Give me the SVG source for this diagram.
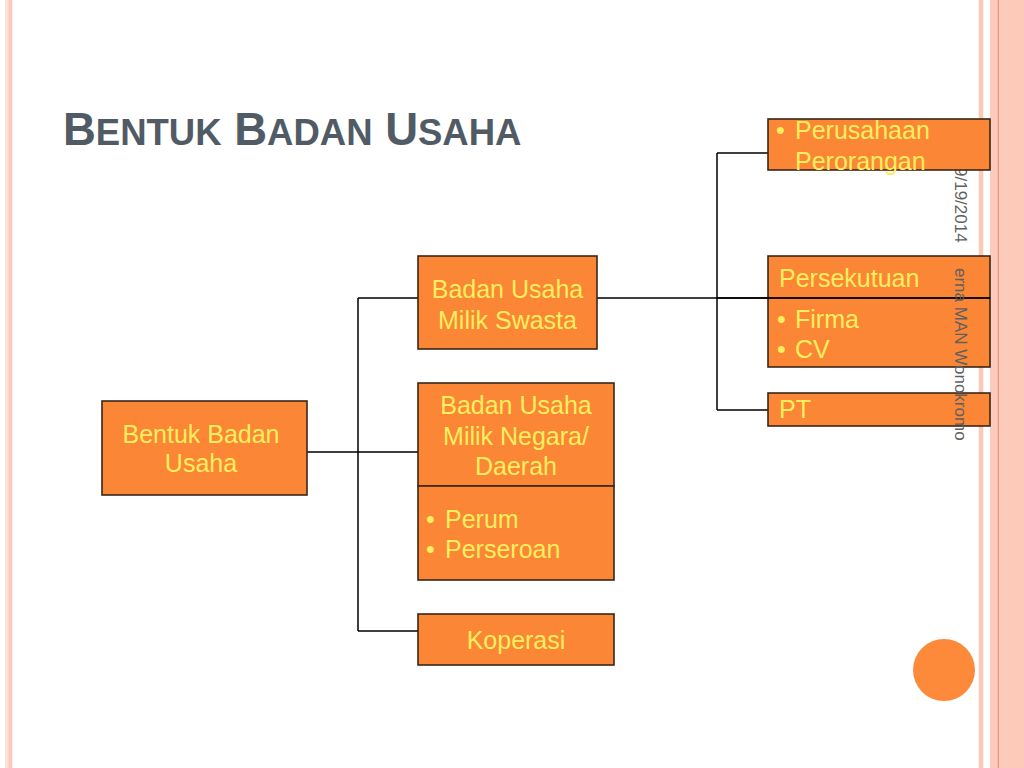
<svg xmlns="http://www.w3.org/2000/svg" width="1024" height="768" viewBox="0 0 1024 768">
<style>
.box{fill:#FA8636;stroke:#3A2618;stroke-width:1.6}
.t{font-family:"Liberation Sans",Arial,sans-serif;font-size:25px;fill:#FFEF5E}
.c{text-anchor:middle}
.ln{fill:none;stroke:#000;stroke-width:1.5}
.ft{font-family:"Liberation Sans",Arial,sans-serif;font-size:17px;fill:#5F5F5F}
.ttl{font-family:"Liberation Sans",Arial,sans-serif;font-weight:bold;fill:#515B66}
</style>
<rect width="1024" height="768" fill="#fff"/>
<!-- left decoration -->
<rect x="5" y="0" width="3.3" height="768" fill="#F9E2D6"/>
<rect x="8.3" y="0" width="4" height="768" fill="#FDC8BA"/>
<!-- right decoration -->
<rect x="978.7" y="0" width="4.6" height="768" fill="#FBC9B9"/>
<rect x="990" y="0" width="34" height="768" fill="#FCCBBB"/>
<rect x="997.7" y="0" width="1.3" height="768" fill="#E59A7C"/>
<rect x="1008" y="0" width="16" height="768" fill="#FDC9B8"/>
<!-- title -->
<text class="ttl" x="63" y="145" font-size="45.5">B<tspan font-size="36.5">ENTUK</tspan> B<tspan font-size="36.5">ADAN</tspan> U<tspan font-size="36.5">SAHA</tspan></text>
<!-- date (behind box) -->
<text class="ft" transform="translate(955,167) rotate(90)">9/19/2014</text>
<!-- connectors -->
<g id="connectors">
<path class="ln" d="M307 452 H418 M358 298 V631 M358 298 H418 M358 631 H418"/>
<path class="ln" d="M597 298 H768 M717 153 V410 M717 153 H768 M717 410 H768"/>
</g>
<g id="n-root">
<rect class="box" x="102" y="401" width="205" height="94"/>
<text class="t c" x="201" y="443">Bentuk Badan</text>
<text class="t c" x="201" y="472">Usaha</text>
</g>
<g id="n-swasta">
<rect class="box" x="418" y="256" width="179" height="93"/>
<text class="t c" x="507.5" y="298">Badan Usaha</text>
<text class="t c" x="507.5" y="329">Milik Swasta</text>
</g>
<g id="n-bumn">
<rect class="box" x="418" y="383" width="196" height="103"/>
<text class="t c" x="516" y="414">Badan Usaha</text>
<text class="t c" x="516" y="445">Milik Negara/</text>
<text class="t c" x="516" y="475">Daerah</text>
<rect class="box" x="418" y="486" width="196" height="94"/>
<text class="t" x="426" y="528">•</text><text class="t" x="445" y="528">Perum</text>
<text class="t" x="426" y="558">•</text><text class="t" x="445" y="558">Perseroan</text>
</g>
<g id="n-koperasi">
<rect class="box" x="418" y="614" width="196" height="51"/>
<text class="t c" x="516" y="649">Koperasi</text>
</g>
<g id="n-perorangan">
<rect class="box" x="768" y="119" width="222" height="51"/>
<text class="t" x="776" y="139">•</text><text class="t" x="795" y="139">Perusahaan</text>
<text class="t" x="795" y="170">Perorangan</text>
</g>
<g id="n-persekutuan">
<rect class="box" x="768" y="256" width="222" height="42"/>
<text class="t" x="779" y="287">Persekutuan</text>
<rect class="box" x="768" y="298" width="222" height="69"/>
<text class="t" x="777" y="328">•</text><text class="t" x="795" y="328">Firma</text>
<text class="t" x="777" y="358">•</text><text class="t" x="795" y="358">CV</text>
</g>
<g id="n-pt">
<rect class="box" x="768" y="393" width="222" height="33"/>
<text class="t" x="779" y="418">PT</text>
</g>
<path class="ln" d="M717 298 H990"/>
<text class="ft" transform="translate(955,268) rotate(90)">erna MAN Wonokromo</text>
<circle cx="944" cy="670" r="31" fill="#FD8A3A"/>
</svg>
